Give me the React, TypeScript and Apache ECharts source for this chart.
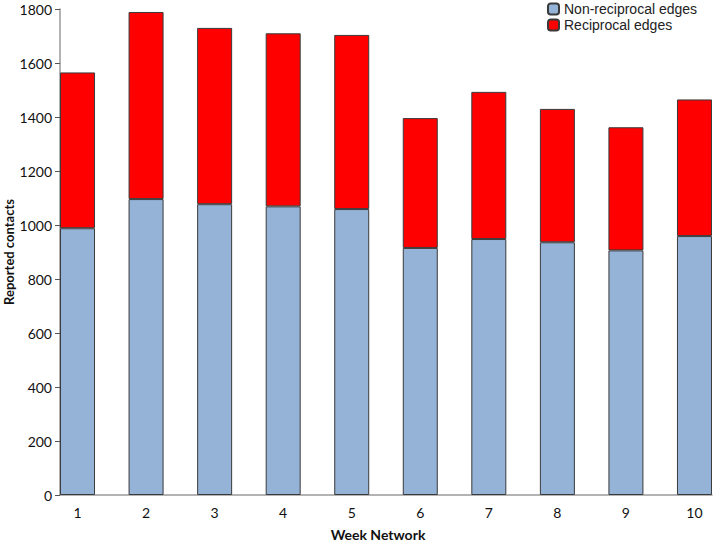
import React, { useEffect, useRef } from "react";
import * as echarts from "echarts";

const weeks = ["1", "2", "3", "4", "5", "6", "7", "8", "9", "10"];
const nonReciprocal = [988, 1096, 1077, 1069, 1059, 915, 948, 936, 906, 959];
const reciprocal = [577, 693, 653, 641, 645, 481, 545, 494, 456, 506];
const seriesNames = ["Non-reciprocal edges", "Reciprocal edges"];
const yMax = 1800;
const yStep = 200;

export default function App() {
  const ref = useRef<HTMLDivElement>(null);
  useEffect(() => {
    if (!ref.current) return;
    const chart = echarts.init(ref.current, null, { renderer: "svg" });
    const labelFont = "Lato, 'Open Sans', sans-serif";
    chart.setOption({
      animation: false,
      backgroundColor: "#ffffff",
      grid: [
        { left: 43.25, right: -14.75, top: 9, bottom: 49, containLabel: false, outerBoundsMode: "none" },
        { left: 60, right: 2, top: 9, bottom: 49, containLabel: false, outerBoundsMode: "none" },
      ],
      legend: {
        orient: "vertical",
        left: 547,
        top: 2,
        padding: 0,
        itemWidth: 11,
        itemHeight: 11,
        itemGap: 2,
        textStyle: { fontFamily: "'Liberation Sans', Arial, sans-serif", fontSize: 14, color: "#222" },
        data: seriesNames,
      },
      xAxis: [
        {
          type: "category",
          gridIndex: 0,
          data: weeks,
          axisLine: { show: false },
          axisTick: { show: false },
          splitLine: { show: false },
          axisLabel: { margin: 10, fontFamily: labelFont, fontSize: 14, color: "#111" },
        },
        {
          type: "value",
          gridIndex: 1,
          min: 0,
          max: 1,
          name: "Week Network",
          nameLocation: "middle",
          nameGap: 32,
          nameMoveOverlap: false,
          nameTextStyle: {
            fontFamily: labelFont,
            fontWeight: "bold",
            fontSize: 14,
            color: "#111",
            padding: [0, 16, 0, 0],
          },
          axisLine: { show: true, lineStyle: { color: "#9a9a9a", width: 1.5 } },
          axisTick: { show: false },
          splitLine: { show: false },
          axisLabel: { show: false },
        },
      ],
      yAxis: [
        {
          type: "value",
          gridIndex: 0,
          min: 0,
          max: yMax,
          show: false,
          splitLine: { show: false },
        },
        {
          type: "value",
          gridIndex: 1,
          min: 0,
          max: yMax,
          interval: yStep,
          name: "Reported contacts",
          nameLocation: "middle",
          nameGap: 45,
          nameMoveOverlap: false,
          nameTextStyle: { fontFamily: labelFont, fontWeight: "bold", fontSize: 13, color: "#111" },
          axisLine: { show: true, lineStyle: { color: "#9a9a9a", width: 1.5 } },
          axisTick: { show: true, length: 5, inside: false, lineStyle: { color: "#555" } },
          splitLine: { show: false },
          axisLabel: {
            margin: 8,
            fontFamily: labelFont,
            fontSize: 14,
            color: "#111",
            formatter: (v: number) => String(v),
          },
        },
      ],
      series: [
        {
          name: seriesNames[0],
          type: "bar",
          stack: "total",
          xAxisIndex: 0,
          yAxisIndex: 0,
          barWidth: 35,
          data: nonReciprocal,
          itemStyle: { color: "#95B3D7", borderColor: "#3a3a3a", borderWidth: 1 },
        },
        {
          name: seriesNames[1],
          type: "bar",
          stack: "total",
          xAxisIndex: 0,
          yAxisIndex: 0,
          barWidth: 35,
          data: reciprocal,
          itemStyle: { color: "#FF0000", borderColor: "#3a3a3a", borderWidth: 1 },
        },
      ],
    });
    return () => chart.dispose();
  }, []);
  return <div ref={ref} style={{ width: 714, height: 544, position: "absolute", left: 0, top: 0 }} />;
}
